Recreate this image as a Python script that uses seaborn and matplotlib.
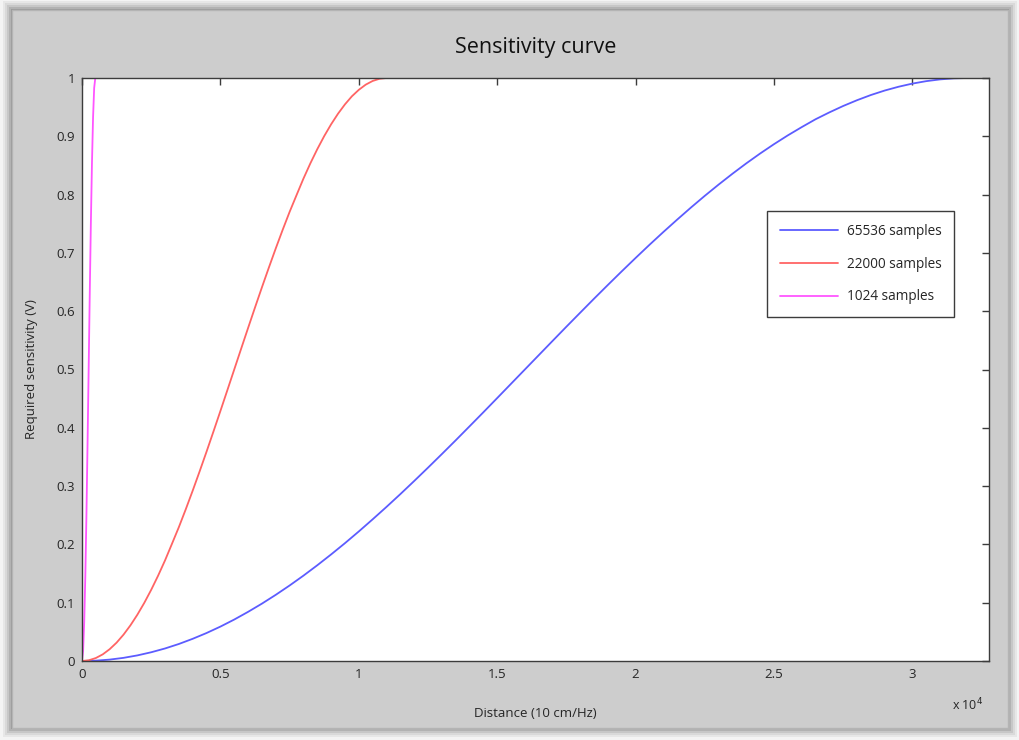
import matplotlib
matplotlib.use("Agg")
import matplotlib.pyplot as plt
from matplotlib.patches import Rectangle
from matplotlib.ticker import FuncFormatter
import pandas as pd
import seaborn as sns

# Required sensitivity (V) against distance (10 cm/Hz) for three record lengths
dist_65536 = [0, 500, 1000, 1500, 2000, 2500, 3000, 3500, 4000, 4500, 5000,
              5500, 6000, 6500, 7000, 7500, 8000, 8500, 9000, 9500, 10000,
              10500, 11000, 11500, 12000, 12500, 13000, 13500, 14000, 14500,
              15000, 15500, 16000, 16500, 17000, 17500, 18000, 18500, 19000,
              19500, 20000, 20500, 21000, 21500, 22000, 22500, 23000, 23500,
              24000, 24500, 25000, 25500, 26000, 26500, 27000, 27500, 28000,
              28500, 29000, 29500, 30000, 30500, 31000, 31500, 32000, 32768]
sens_65536 = [0.0, 0.0006, 0.0024, 0.0054, 0.0096, 0.015, 0.0215, 0.0292,
              0.0381, 0.048, 0.059, 0.0711, 0.0843, 0.0984, 0.1135, 0.1295,
              0.1464, 0.1642, 0.1828, 0.2021, 0.2222, 0.243, 0.2643, 0.2862,
              0.3087, 0.3316, 0.3549, 0.3785, 0.4025, 0.4266, 0.451, 0.4755,
              0.5, 0.5245, 0.549, 0.5734, 0.5975, 0.6215, 0.6451, 0.6684,
              0.6913, 0.7138, 0.7357, 0.757, 0.7778, 0.7979, 0.8172, 0.8358,
              0.8536, 0.8705, 0.8865, 0.9016, 0.9157, 0.9292, 0.941, 0.952,
              0.9619, 0.9708, 0.9785, 0.985, 0.9904, 0.9946, 0.9976, 0.9994,
              1.0, 1.0]

dist_22000 = [0, 250, 500, 750, 1000, 1250, 1500, 1750, 2000, 2250, 2500,
              2750, 3000, 3250, 3500, 3750, 4000, 4250, 4500, 4750, 5000,
              5250, 5500, 5750, 6000, 6250, 6500, 6750, 7000, 7250, 7500,
              7750, 8000, 8250, 8500, 8750, 9000, 9250, 9500, 9750, 10000,
              10250, 10500, 10750, 11000]
sens_22000 = [0.0, 0.0013, 0.0051, 0.0114, 0.0203, 0.0315, 0.0452, 0.0612,
              0.0794, 0.0997, 0.1221, 0.1464, 0.1726, 0.201, 0.2297, 0.2604,
              0.2923, 0.3253, 0.3591, 0.3937, 0.4288, 0.4643, 0.5, 0.5357,
              0.5712, 0.6063, 0.6409, 0.6747, 0.7077, 0.7396, 0.7703, 0.799,
              0.8274, 0.8536, 0.8779, 0.9003, 0.9206, 0.9388, 0.9548, 0.9686,
              0.9797, 0.9886, 0.9949, 0.9987, 1.0]

dist_1024 = [0, 40, 80, 120, 160, 200, 240, 280, 320, 360, 400, 440, 480]
sens_1024 = [0.0, 0.017, 0.067, 0.146, 0.25, 0.371, 0.5, 0.629, 0.75, 0.854,
             0.933, 0.983, 1.0]

series_labels = ["65536 samples", "22000 samples", "1024 samples"]
series_colors = ["#5c5cff", "#ff6464", "#ff55ff"]

x_ticks = [0, 5000, 10000, 15000, 20000, 25000, 30000]
y_ticks = [0, 0.1, 0.2, 0.3, 0.4, 0.5, 0.6, 0.7, 0.8, 0.9, 1.0]

sns.set_style("white")
plt.rcParams["font.family"] = ["Open Sans", "DejaVu Sans"]

fig = plt.figure(figsize=(10.2, 7.4), dpi=100)
fig.patch.set_facecolor("#f4f4f4")

W, H = 1020.0, 740.0
# window panel with a soft drop shadow
px0, py0, px1, py1 = 12, 10, 1008, 728
for i, a in enumerate([0.05, 0.06, 0.08, 0.10, 0.13]):
    g = 9 - 2 * i
    fig.patches.append(Rectangle(((px0 - g) / W, 1 - (py1 + g) / H),
                                 (px1 - px0 + 2 * g) / W, (py1 - py0 + 2 * g) / H,
                                 transform=fig.transFigure, facecolor="black",
                                 edgecolor="none", alpha=a, zorder=-3))
fig.patches.append(Rectangle((px0 / W, 1 - py1 / H), (px1 - px0) / W, (py1 - py0) / H,
                             transform=fig.transFigure, facecolor="#cdcdcd",
                             edgecolor="#b4b4b4", linewidth=1.0, zorder=-2))

ax = fig.add_axes([82 / W, 1 - 661 / H, (989 - 82) / W, (661 - 78) / H])
ax.set_facecolor("white")

frames = [
    pd.DataFrame({"d": dist_65536, "s": sens_65536}),
    pd.DataFrame({"d": dist_22000, "s": sens_22000}),
    pd.DataFrame({"d": dist_1024, "s": sens_1024}),
]
for df, lab, col in zip(frames, series_labels, series_colors):
    sns.lineplot(data=df, x="d", y="s", ax=ax, color=col, linewidth=1.3,
                 label=lab, sort=False, estimator=None)

ax.set_xlim(0, 32768)
ax.set_ylim(0, 1)
ax.set_xticks(x_ticks)
ax.set_yticks(y_ticks)
ax.xaxis.set_major_formatter(FuncFormatter(lambda v, p: "%g" % (v / 1e4)))
ax.yaxis.set_major_formatter(FuncFormatter(lambda v, p: "%g" % v))
ax.tick_params(axis="both", which="major", direction="in", length=5, width=1.0,
               color="#3c3c3c", labelsize=9.5, labelcolor="#262626",
               top=True, right=True, pad=5)
for sp in ax.spines.values():
    sp.set_visible(True)
    sp.set_color("#3c3c3c")
    sp.set_linewidth(1.0)

ax.set_xlabel("Distance (10 cm/Hz)", fontsize=9.5, color="#262626", labelpad=19)
ax.set_ylabel("Required sensitivity (V)", fontsize=9.5, color="#262626", labelpad=13)
ax.set_title("Sensitivity curve", fontsize=15.5, color="#111111", pad=18)
ax.text(968 / W, 1 - 705 / H, "x 10$^4$", transform=fig.transFigure,
        fontsize=9, color="#262626", ha="center", va="center")

leg = ax.legend(loc="upper left", bbox_to_anchor=((767 - 82) / 907, (661 - 211) / 583),
                frameon=True, fancybox=False, shadow=False, fontsize=9.8,
                handlelength=4.3, borderpad=0.95, labelspacing=1.3,
                handletextpad=0.6, borderaxespad=0)
leg.get_frame().set_edgecolor("#3c3c3c")
leg.get_frame().set_linewidth(1.0)
leg.get_frame().set_facecolor("white")
leg.get_frame().set_alpha(1.0)
for t in leg.get_texts():
    t.set_color("#262626")

fig.savefig("out.png", dpi=100, facecolor=fig.get_facecolor())
